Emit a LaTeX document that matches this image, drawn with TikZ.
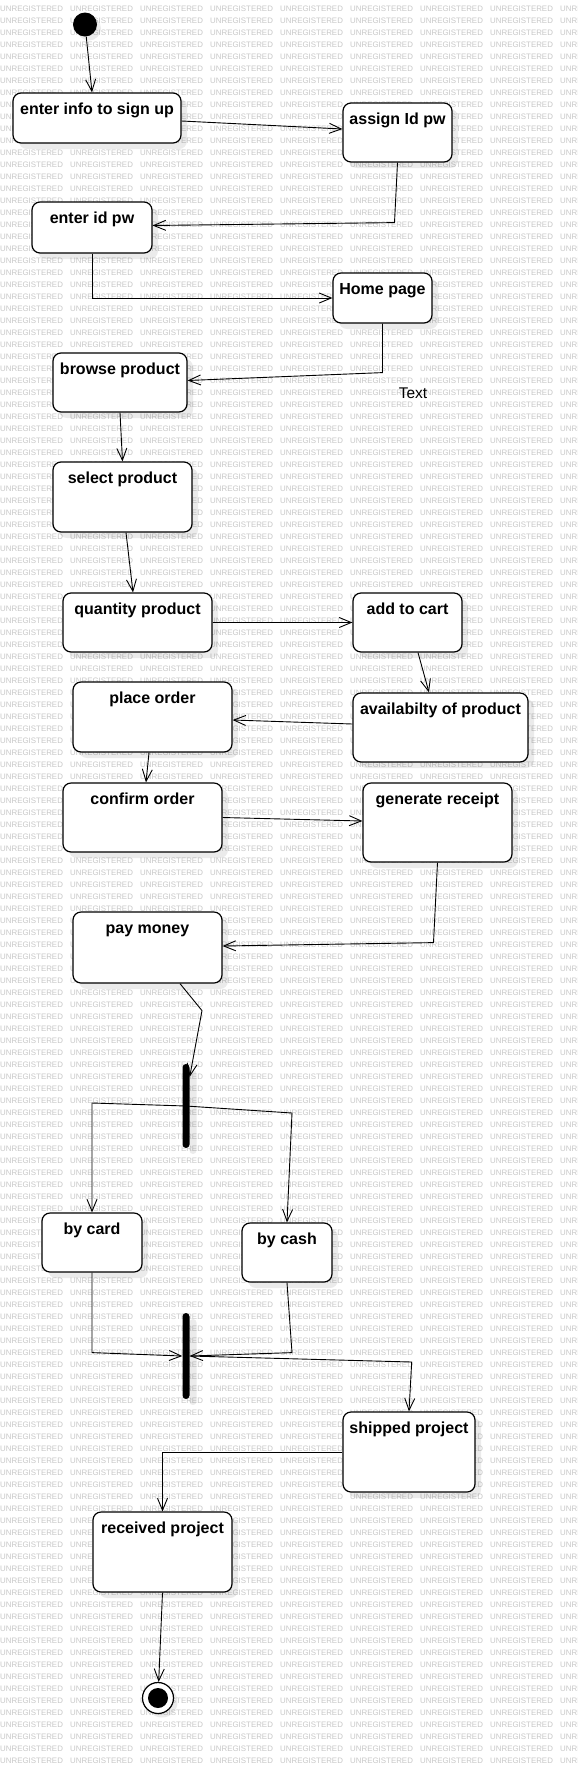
\documentclass[tikz,border=0pt]{standalone}
\usepackage{fontspec}
\setmainfont{Liberation Sans}
\usepackage{tikz}
\usetikzlibrary{arrows.meta,positioning,calc,shadows}
\definecolor{Ink}{HTML}{000000}
\definecolor{Mark}{HTML}{C8C8C8}
\tikzset{
  act/.style={draw=Ink,line width=1.2pt,rounded corners=8pt,fill=white,inner xsep=2pt,inner ysep=0pt,
    font=\fontsize{16}{18}\selectfont\bfseries,text height=21pt,
    drop shadow={shadow xshift=6pt,shadow yshift=-6pt,fill=black,opacity=0.08}},
  bar/.style={fill=Ink,rounded corners=3.5pt,minimum width=7pt,inner sep=0pt,
    drop shadow={shadow xshift=7pt,shadow yshift=-6pt,fill=black,opacity=0.08}},
  flow/.style={-{Straight Barb[length=12pt,width=10pt]},line width=0.9pt,draw=Ink},
  wm/.style={font=\fontsize{7.9}{8}\selectfont,text=Mark,inner sep=0pt,anchor=west},
}

\begin{document}
\begin{tikzpicture}[x=1pt,y=-1pt]
\clip (0,0) rectangle (578,1765);
\fill[white] (0,0) rectangle (578,1765);
% watermark
\foreach \r in {0,...,146}
  \foreach \c in {0,...,8}
    \node[wm] (w\r-\c) at (\c*70,9+\r*12) {UNREGISTERED};

% activities
\node[circle,fill=Ink,minimum size=24pt,inner sep=0pt,
  drop shadow={shadow xshift=4pt,shadow yshift=-4pt,fill=black,opacity=0.08}] (start) at (85,24.5) {};
\node[act,minimum width=168pt,text depth=29pt] (signup) at (97,118) {enter info to sign up};
\node[act,minimum width=109pt,text depth=38pt] (assign) at (397.5,132.5) {assign Id pw};
\node[act,minimum width=120pt,text depth=30pt] (enterid) at (92,227.5) {enter id pw};
\node[act,minimum width=99pt,text depth=29pt] (home) at (382.5,298) {Home page};
\node[act,minimum width=134pt,text depth=38pt] (browse) at (120,382.5) {browse product};
\node[font=\fontsize{15.5}{17}\selectfont] (note) at (413,393) {Text};
\node[act,minimum width=139pt,text depth=49pt] (select) at (122.5,497) {select product};
\node[act,minimum width=149pt,text depth=38pt] (quantity) at (137.5,622.5) {quantity product};
\node[act,minimum width=109pt,text depth=38pt] (cart) at (407.5,622.5) {add to cart};
\node[act,minimum width=159pt,text depth=49pt] (place) at (152.5,717) {place order};
\node[act,minimum width=175pt,text depth=48pt] (avail) at (440.5,727.5) {availabilty of product};
\node[act,minimum width=159pt,text depth=48pt] (confirm) at (142.5,817.5) {confirm order};
\node[act,minimum width=149pt,text depth=58pt] (receipt) at (437.5,822.5) {generate receipt};
\node[act,minimum width=149pt,text depth=50pt] (pay) at (147.5,947.5) {pay money};
\node[bar,minimum height=84pt] (fork) at (186,1106) {};
\node[act,minimum width=100pt,text depth=38pt] (card) at (92,1242.5) {by card};
\node[act,minimum width=90pt,text depth=38pt] (cash) at (287,1252.5) {by cash};
\node[bar,minimum height=86pt] (join) at (186,1356) {};
\node[act,minimum width=132pt,text depth=59pt] (shipped) at (409,1452) {shipped project};
\node[act,minimum width=139pt,text depth=59pt] (received) at (162.5,1552) {received project};
\node[circle,draw=Ink,line width=1.2pt,fill=white,minimum size=31pt,inner sep=0pt,
  drop shadow={shadow xshift=4pt,shadow yshift=-4pt,fill=black,opacity=0.08}] (end) at (158,1698) {};
\node[circle,fill=Ink,minimum size=20pt,inner sep=0pt] (endin) at (end) {};

% transitions
\draw[flow] (start) -- ([xshift=-5pt]signup.north);
\draw[flow] ([yshift=-3pt]signup.east) -- ([yshift=3.5pt]assign.west);
\draw[flow] (assign.south) -- ++(-3,60) -- ([yshift=2pt]enterid.east);
\draw[flow] (enterid.south) |- (home.west);
\draw[flow] (home.south) -- ++(0,49) -- ([yshift=2pt]browse.east);
\draw[flow] (browse.south) -- (select.north);
\draw[flow] ([xshift=3.5pt]select.south) -- ([xshift=-4.5pt]quantity.north);
\draw[flow] (quantity.east) -- (cart.west);
\draw[flow] ([xshift=10.5pt]cart.south) -- ([xshift=-11.5pt]avail.north);
\draw[flow] ([yshift=3.5pt]avail.west) -- ([yshift=-3pt]place.east);
\draw[flow] ([xshift=-3.5pt]place.south) -- ([xshift=3.5pt]confirm.north);
\draw[flow] (confirm.east) -- ([yshift=1.5pt]receipt.west);
\draw[flow] (receipt.south) -- ++(-4,80) -- ([yshift=1.5pt]pay.east);
\draw[flow] ([xshift=32.5pt]pay.south) -- ++(22,27) -- ([yshift=-13pt]fork.north east);
\draw[flow] (fork.center) -- ++(-94,-3) -- (card.north);
\draw[flow] (fork.center) -- ++(106,7) -- (cash.north);
\draw[flow] (card.south) -- ++(0,80) -- (join.west);
\draw[flow] (cash.south) -- ++(5,70) -- (join.east);
\draw[flow] (join.east) -- ++(222,6) -- (shipped.north);
\draw[flow] (shipped.west) -| (received.north);
\draw[flow] (received.south) -- (end);
\end{tikzpicture}
\end{document}
